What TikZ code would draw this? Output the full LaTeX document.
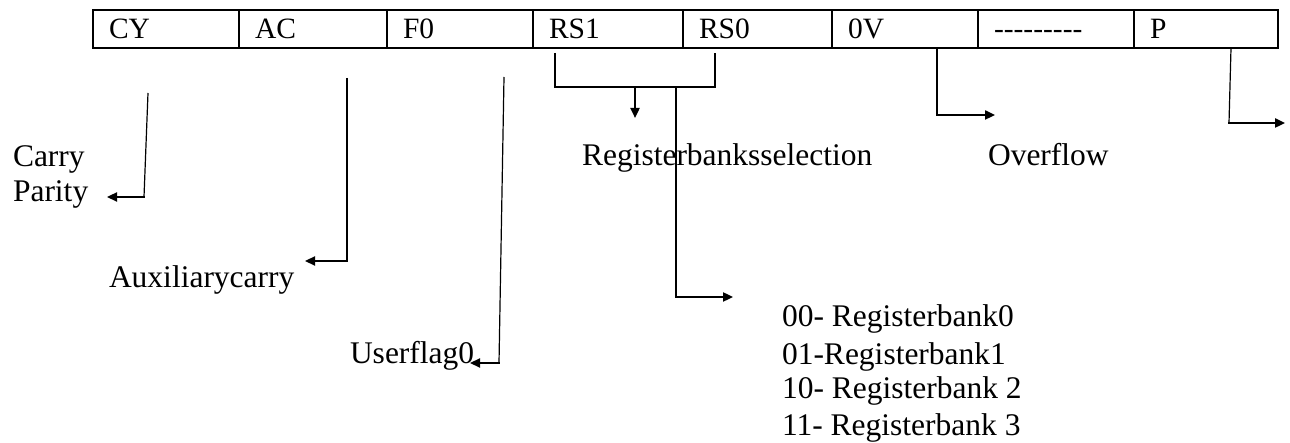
\documentclass[tikz,border=0pt]{standalone}
\usepackage{fontspec}
\setmainfont{Liberation Serif}
\usetikzlibrary{arrows.meta}
\begin{document}
\begin{tikzpicture}[x=1pt,y=-1pt,
  cellfont/.style={font=\fontsize{29.5}{35}\selectfont},
  lblfont/.style={font=\fontsize{31.5}{36}\selectfont},
  txt/.style={anchor=base west, inner sep=0pt, outer sep=0pt},
  cell/.style={draw, line width=1.6pt, minimum height=38pt, inner sep=0pt, outer sep=0pt},
  lead/.style={line width=1.2pt},
  pointer/.style={line width=2.3pt, -{Triangle[length=10pt,width=9pt]}},
]
\useasboundingbox (0,0) rectangle (1290,443);

% PSW register cells
\node[cell, minimum width=146pt] (cy)  at (166,29)   {};
\node[cell, minimum width=148pt] (ac)  at (313,29)   {};
\node[cell, minimum width=146pt] (f0)  at (460,29)   {};
\node[cell, minimum width=150pt] (rs1) at (608,29)   {};
\node[cell, minimum width=149pt] (rs0) at (757.5,29) {};
\node[cell, minimum width=146pt] (ov)  at (905,29)   {};
\node[cell, minimum width=156pt] (res) at (1056,29)  {};
\node[cell, minimum width=144pt] (p)   at (1206,29)  {};

% cell texts
\node[txt, cellfont] (tcy)  at (109,39)  {CY};
\node[txt, cellfont] (tac)  at (255,39)  {AC};
\node[txt, cellfont] (tf0)  at (403,39)  {F0};
\node[txt, cellfont] (trs1) at (549,39)  {RS1};
\node[txt, cellfont] (trs0) at (699,39)  {RS0};
\node[txt, cellfont] (tov)  at (848,39)  {0V};
\node[txt, cellfont] (tres) at (994,39)  {{-}{-}{-}{-}{-}{-}{-}{-}{-}};
\node[txt, cellfont] (tp)   at (1150,39) {P};

% flag descriptions
\node[txt, lblfont] (carry)  at (13,167)  {Carry};
\node[txt, lblfont] (parity) at (13,202)  {Parity};
\node[txt, lblfont] (aux)    at (109,288) {Auxiliarycarry};
\node[txt, lblfont] (uf)     at (350,363) {Userflag0};
\node[txt, lblfont] (rbs)    at (582,166) {Registerbanksselection};
\node[txt, lblfont] (ovf)    at (988,166) {Overflow};
\node[txt, lblfont] (b0)     at (782,327) {00- Registerbank0};
\node[txt, lblfont] (b1)     at (782,364) {01-Registerbank1};
\node[txt, lblfont] (b2)     at (782,399) {10- Registerbank 2};
\node[txt, lblfont] (b3)     at (782,435) {11- Registerbank 3};

% bend points of the leader lines
\coordinate (cyA) at (148,93);   \coordinate (cyB) at (144,197);  \coordinate (cyT) at (107,197);
\coordinate (acA) at (347,78);   \coordinate (acB) at (347,261);  \coordinate (acT) at (305,261);
\coordinate (f0A) at (504,77);   \coordinate (f0B) at (499,363);  \coordinate (f0T) at (470,363);
\coordinate (rs1A) at (555,53);  \coordinate (rs1B) at (555,87);
\coordinate (rs0A) at (715,53);  \coordinate (rs0B) at (715,87);
\coordinate (selA) at (635,87);  \coordinate (selT) at (635,118);
\coordinate (bkA) at (676,87);   \coordinate (bkB) at (676,297);  \coordinate (bkT) at (733,297);
\coordinate (ovA) at (937,48);   \coordinate (ovB) at (937,115);  \coordinate (ovT) at (995,115);
\coordinate (pA) at (1231,48);   \coordinate (pB) at (1229,123);  \coordinate (pT) at (1285,123);

% leaders
\draw[lead] (cyA) -- (cyB);
\draw[pointer] ([xshift=0.6pt]cyB) -- (cyT);
\draw[lead] (acA) -- (acB);
\draw[pointer] ([xshift=0.6pt]acB) -- (acT);
\draw[lead] (f0A) -- (f0B);
\draw[pointer] ([xshift=0.6pt]f0B) -- (f0T);
\draw[lead] (rs1A) -- (rs1B) -- (rs0B) -- (rs0A);
\draw[pointer] (selA) -- (selT);
\draw[lead] (bkA) -- (bkB);
\draw[pointer] ([xshift=-0.6pt]bkB) -- (bkT);
\draw[lead] (ovA) -- (ovB);
\draw[pointer] ([xshift=-0.6pt]ovB) -- (ovT);
\draw[lead] (pA) -- (pB);
\draw[pointer] ([xshift=-0.6pt]pB) -- (pT);
\end{tikzpicture}
\end{document}
